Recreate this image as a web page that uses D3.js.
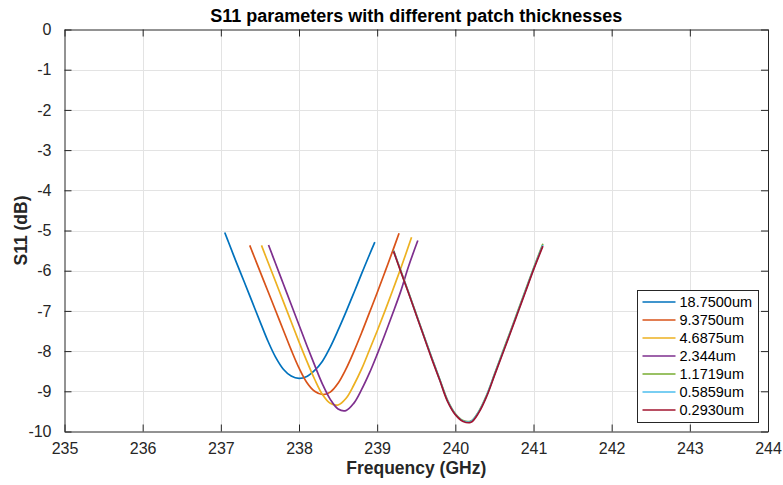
<!DOCTYPE html>
<html>
<head>
<meta charset="utf-8">
<script src="https://cdn.jsdelivr.net/npm/d3@7"></script>
<style>
  body { margin: 0; background: #fff; }
  svg { display: block; font-family: "Liberation Sans", Arial, sans-serif; }
</style>
</head>
<body>
<div id="chart"></div>
<script>
// thicknesses shown in the legend
const labels = ["18.7500um", "9.3750um", "4.6875um", "2.344um", "1.1719um", "0.5859um", "0.2930um"];
const colors = ["#0072BD", "#D95319", "#EDB120", "#7E2F8E", "#77AC30", "#4DBEEE", "#A2142F"];

const xTicks = [235, 236, 237, 238, 239, 240, 241, 242, 243, 244];
const yTicks = [0, -1, -2, -3, -4, -5, -6, -7, -8, -9, -10];

// frequency (GHz) / S11 (dB)
const f1 = [237.05, 237.1, 237.2, 237.3, 237.4, 237.5, 237.6, 237.7, 237.8, 237.9, 238.0, 238.1, 238.2, 238.3, 238.4, 238.5, 238.6, 238.7, 238.8, 238.9, 238.97];
const s1 = [-5.05, -5.30, -5.80, -6.28, -6.77, -7.26, -7.74, -8.15, -8.45, -8.62, -8.68, -8.63, -8.48, -8.25, -7.90, -7.48, -7.03, -6.56, -6.08, -5.61, -5.29];

const f2 = [237.37, 237.4, 237.5, 237.6, 237.7, 237.8, 237.9, 238.0, 238.1, 238.2, 238.3, 238.4, 238.5, 238.6, 238.7, 238.8, 238.9, 239.0, 239.1, 239.2, 239.28];
const s2 = [-5.37, -5.52, -6.01, -6.50, -6.99, -7.48, -7.97, -8.42, -8.78, -9.00, -9.08, -9.02, -8.80, -8.45, -8.02, -7.55, -7.05, -6.55, -6.03, -5.50, -5.07];

const f3 = [237.52, 237.6, 237.7, 237.8, 237.9, 238.0, 238.1, 238.2, 238.3, 238.4, 238.5, 238.6, 238.7, 238.8, 238.9, 239.0, 239.1, 239.2, 239.3, 239.44];
const s3 = [-5.37, -5.77, -6.27, -6.77, -7.27, -7.77, -8.25, -8.70, -9.08, -9.30, -9.34, -9.18, -8.85, -8.45, -7.98, -7.50, -7.00, -6.48, -5.95, -5.17];

const f4 = [237.61, 237.7, 237.8, 237.9, 238.0, 238.1, 238.2, 238.3, 238.4, 238.5, 238.6, 238.7, 238.8, 238.9, 239.0, 239.1, 239.2, 239.3, 239.4, 239.52];
const s4 = [-5.36, -5.82, -6.33, -6.84, -7.35, -7.86, -8.35, -8.82, -9.20, -9.44, -9.48, -9.30, -8.96, -8.55, -8.08, -7.58, -7.06, -6.52, -5.90, -5.25];

const f5 = [239.21, 239.3, 239.4, 239.5, 239.6, 239.7, 239.8, 239.9, 240.0, 240.1, 240.2, 240.3, 240.4, 240.5, 240.6, 240.7, 240.8, 240.9, 241.0, 241.12];
const s5 = [-5.50, -5.99, -6.53, -7.08, -7.63, -8.17, -8.70, -9.22, -9.56, -9.73, -9.74, -9.50, -9.10, -8.58, -8.05, -7.53, -7.00, -6.47, -5.94, -5.33];

const f6 = [239.21, 239.3, 239.4, 239.5, 239.6, 239.7, 239.8, 239.9, 240.0, 240.1, 240.2, 240.3, 240.4, 240.5, 240.6, 240.7, 240.8, 240.9, 241.0, 241.12];
const s6 = [-5.51, -6.00, -6.54, -7.09, -7.64, -8.18, -8.71, -9.23, -9.57, -9.74, -9.75, -9.51, -9.11, -8.59, -8.07, -7.55, -7.02, -6.49, -5.96, -5.36];

const f7 = [239.21, 239.3, 239.4, 239.5, 239.6, 239.7, 239.8, 239.9, 240.0, 240.1, 240.2, 240.3, 240.4, 240.5, 240.6, 240.7, 240.8, 240.9, 241.0, 241.12];
const s7 = [-5.52, -6.01, -6.55, -7.10, -7.65, -8.20, -8.72, -9.25, -9.58, -9.75, -9.77, -9.53, -9.13, -8.61, -8.09, -7.57, -7.04, -6.51, -5.98, -5.39];

const series = [[f1, s1], [f2, s2], [f3, s3], [f4, s4], [f5, s5], [f6, s6], [f7, s7]]
  .map((d, i) => ({ label: labels[i], color: colors[i], pts: d[0].map((f, j) => [f, d[1][j]]) }));

const width = 783, height = 485;
const mLeft = 64.5, mRight = 768, mTop = 29.5, mBottom = 431.5;
const ink = "#262626";

const x = d3.scaleLinear().domain([235, 244]).range([mLeft, mRight]);
const y = d3.scaleLinear().domain([-10, 0]).range([mBottom, mTop]);

const svg = d3.select("#chart").append("svg")
    .attr("width", width)
    .attr("height", height);

// grid
svg.append("g")
  .selectAll("line")
  .data(xTicks.slice(1, -1))
  .join("line")
    .attr("x1", d => Math.round(x(d)) + 0.5).attr("x2", d => Math.round(x(d)) + 0.5)
    .attr("y1", mTop).attr("y2", mBottom)
    .attr("stroke", "#e3e3e3");
svg.append("g")
  .selectAll("line")
  .data(yTicks.slice(1, -1))
  .join("line")
    .attr("y1", d => Math.round(y(d)) + 0.5).attr("y2", d => Math.round(y(d)) + 0.5)
    .attr("x1", mLeft).attr("x2", mRight)
    .attr("stroke", "#e3e3e3");

// curves
const line = d3.line().x(d => x(d[0])).y(d => y(d[1])).curve(d3.curveCatmullRom);
svg.append("g")
  .selectAll("path")
  .data(series)
  .join("path")
    .attr("d", d => line(d.pts))
    .attr("fill", "none")
    .attr("stroke", d => d.color)
    .attr("stroke-width", 1.7);

// axes box with inward ticks, plain hyphen minus like the original
const plain = d => String(d);
const xAxisB = d3.axisBottom(x).tickValues(xTicks).tickFormat(plain).tickSizeInner(-7).tickSizeOuter(0).tickPadding(11);
const yAxisL = d3.axisLeft(y).tickValues(yTicks).tickFormat(plain).tickSizeInner(-7).tickSizeOuter(0).tickPadding(13);
const xAxisT = d3.axisTop(x).tickValues(xTicks).tickSizeInner(-7).tickSizeOuter(0).tickFormat("");
const yAxisR = d3.axisRight(y).tickValues(yTicks).tickSizeInner(-7).tickSizeOuter(0).tickFormat("");

function style(g) {
  g.select(".domain").attr("stroke", ink);
  g.selectAll(".tick line").attr("stroke", ink);
  g.selectAll(".tick text").attr("fill", ink).attr("font-size", 16)
    .attr("font-family", "'Liberation Sans', Arial, sans-serif");
}
svg.append("g").attr("transform", `translate(0,${mBottom})`).call(xAxisB).call(style);
svg.append("g").attr("transform", `translate(${mLeft},0)`).call(yAxisL).call(style);
svg.append("g").attr("transform", `translate(0,${mTop})`).call(xAxisT).call(style);
svg.append("g").attr("transform", `translate(${mRight},0)`).call(yAxisR).call(style);

// titles
svg.append("text")
    .attr("x", (mLeft + mRight) / 2).attr("y", 22)
    .attr("text-anchor", "middle")
    .attr("font-size", 18).attr("font-weight", "bold").attr("fill", "#000")
    .text("S11 parameters with different patch thicknesses");
svg.append("text")
    .attr("x", (mLeft + mRight) / 2).attr("y", 474)
    .attr("text-anchor", "middle")
    .attr("font-size", 17.5).attr("font-weight", "bold").attr("fill", ink)
    .text("Frequency (GHz)");
svg.append("text")
    .attr("transform", `translate(27,${(mTop + mBottom) / 2}) rotate(-90)`)
    .attr("text-anchor", "middle")
    .attr("font-size", 17.5).attr("font-weight", "bold").attr("fill", ink)
    .text("S11 (dB)");

// legend
const lg = svg.append("g").attr("transform", "translate(637.5,290.5)");
lg.append("rect")
    .attr("width", 121).attr("height", 132)
    .attr("fill", "#fff").attr("stroke", ink);
const row = lg.selectAll("g")
  .data(series)
  .join("g")
    .attr("transform", (d, i) => `translate(0,${11.5 + i * 18})`);
row.append("line")
    .attr("x1", 5).attr("x2", 38)
    .attr("stroke", d => d.color).attr("stroke-width", 1.7);
row.append("text")
    .attr("x", 42).attr("y", 5)
    .attr("font-size", 14.5).attr("fill", "#000")
    .text(d => d.label);
</script>
</body>
</html>
